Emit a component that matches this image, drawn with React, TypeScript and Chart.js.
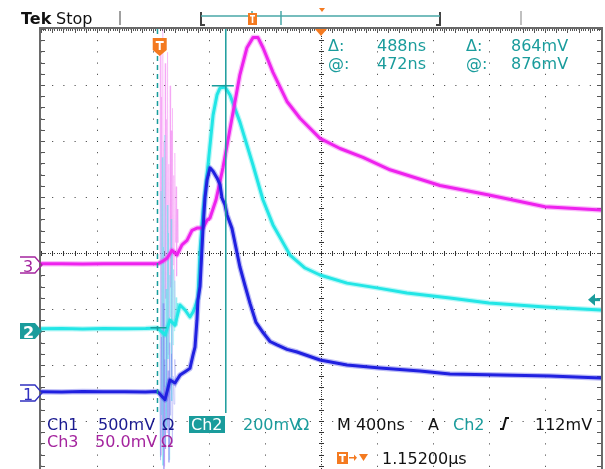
import React, { useEffect, useRef } from "react";
import { Chart, registerables } from "chart.js";
Chart.register(...registerables);

// ---- timebase / vertical setup ----
const timeDivNs = 400;
const triggerDelayNs = 1152;
const xMinNs = triggerDelayNs - 5 * timeDivNs;
const xMaxNs = triggerDelayNs + 5 * timeDivNs;
const divTop = 4;
const divBottom = -3.857;

const ch1Scale = 0.5, ch1Pos = -2.5;
const ch2Scale = 0.2, ch2Pos = -1.393;
const ch3Scale = 0.05, ch3Pos = -0.214;

const cursor1Ns = -16, cursor1V = 0.012;
const cursor2Ns = 472, cursor2V = 0.876;
const triggerLevelV = 0.112;

// ---- waveforms (time ns, volts) ----
const ch1T = [-848, -700, -550, -400, -250, -100, -16, 38, 73, 109, 145, 181, 216, 238, 252, 266, 273, 288, 309, 323, 338, 359, 381, 409, 431, 445, 466, 481, 516, 573, 609, 645, 688, 738, 788, 838, 909, 981, 1145, 1338, 1573, 1859, 2073, 2431, 2788, 3152];
const ch1V = [0.012, 0.010, 0.013, 0.011, 0.012, 0.010, 0.014, -0.060, 0.116, 0.089, 0.160, 0.190, 0.220, 0.340, 0.410, 0.650, 0.830, 0.950, 1.460, 1.740, 1.900, 2.010, 1.980, 1.920, 1.860, 1.740, 1.680, 1.590, 1.470, 1.125, 0.960, 0.800, 0.630, 0.540, 0.460, 0.430, 0.390, 0.366, 0.295, 0.250, 0.223, 0.196, 0.170, 0.160, 0.152, 0.134];

const ch2T = [-848, -700, -550, -400, -250, -100, -16, 38, 73, 109, 145, 181, 216, 238, 252, 273, 288, 309, 345, 381, 409, 431, 466, 502, 573, 666, 738, 809, 931, 1038, 1145, 1338, 1552, 1766, 2073, 2352, 2752, 3152];
const ch2V = [0.008, 0.009, 0.007, 0.009, 0.008, 0.009, 0.011, -0.014, 0.039, 0.021, 0.093, 0.075, 0.050, 0.068, 0.086, 0.118, 0.289, 0.425, 0.593, 0.771, 0.843, 0.868, 0.871, 0.843, 0.746, 0.593, 0.468, 0.379, 0.271, 0.225, 0.200, 0.171, 0.154, 0.136, 0.118, 0.100, 0.086, 0.075];

const ch3T = [-848, -700, -550, -400, -250, -100, -16, 16, 52, 88, 124, 159, 195, 231, 266, 309, 338, 359, 402, 452, 516, 573, 623, 666, 702, 738, 809, 909, 1002, 1145, 1288, 1452, 1645, 2002, 2352, 2752, 3152];
const ch3V = [0.0010, 0.0012, 0.0009, 0.0011, 0.0010, 0.0012, 0.0010, 0.003, 0.006, 0.013, 0.009, 0.018, 0.022, 0.031, 0.033, 0.033, 0.040, 0.042, 0.058, 0.087, 0.131, 0.170, 0.194, 0.203, 0.203, 0.194, 0.172, 0.146, 0.131, 0.113, 0.104, 0.096, 0.085, 0.071, 0.0625, 0.052, 0.049];

// ---- burst noise just after the trigger ----
const smear1T = [0, 6, 12, 18, 24, 30, 36, 42, 48, 54, 60, 66, 72, 78, 84, 90, 96, 102, 108, 114, 120];
const smear1V = [0.01, -0.6, 0.5, -0.4, 0.8, -0.68, 0.3, -0.5, 0.6, -0.3, 0.2, -0.62, 0.45, -0.2, 0.35, -0.45, 0.15, -0.1, 0.3, 0.05, 0.1];
const smear2T = [0, 5, 9, 14, 18, 23, 27, 32, 36, 41, 45, 50, 54, 59, 63, 68, 72, 77, 81, 86, 90, 95, 99, 104, 108, 113, 117, 122, 126, 130];
const smear2V = [0.01, -0.45, 0.5, -0.3, 0.62, -0.48, 0.3, -0.2, 0.7, -0.42, 0.15, -0.35, 0.45, -0.1, 0.35, -0.46, 0.2, 0.05, 0.4, -0.25, 0.28, -0.05, 0.22, 0.0, 0.18, 0.05, 0.12, 0.02, 0.1, 0.06];
const smear3T = [0, 4, 9, 13, 17, 22, 26, 30, 35, 39, 43, 48, 52, 56, 61, 65, 69, 74, 78, 82, 87, 91, 95, 100, 104, 108, 113, 117, 121, 126, 130];
const smear3V = [0.00, 0.20, -0.17, 0.15, -0.06, 0.21, -0.12, 0.11, -0.18, 0.18, -0.03, 0.13, -0.15, 0.19, -0.08, 0.09, -0.16, 0.16, -0.02, 0.12, -0.10, 0.14, 0.00, 0.08, -0.05, 0.10, 0.02, 0.07, -0.01, 0.05, 0.02];

// ---- colours ----
const C1 = "#2020e0", C1T = "#1a1a90";
const C2 = "#22e6e6", C2T = "#1a9c9c";
const C3 = "#ee22ee", C3T = "#a4249e";
const ORANGE = "#f47a20";

const pts = (t: number[], v: number[]) => t.map((x, i) => ({ x, y: v[i] }));
const FONT = "DejaVu Sans";

const scopePlugin = {
  id: "scope",
  beforeDraw(chart: any) {
    const ctx = chart.ctx;
    ctx.save();
    ctx.fillStyle = "#ffffff";
    ctx.fillRect(0, 0, chart.width, chart.height);
    ctx.restore();
  },
  beforeDatasetsDraw(chart: any) {
    const ctx = chart.ctx;
    const a = chart.chartArea;
    const xs = chart.scales.x, ys = chart.scales.y;
    const cx = xs.getPixelForValue(triggerDelayNs);
    const cy = ys.getPixelForValue(0);
    const minorX = (xs.getPixelForValue(xMinNs + timeDivNs) - xs.getPixelForValue(xMinNs)) / 5;
    const minorY = (ys.getPixelForValue(0) - ys.getPixelForValue(1)) / 5;
    ctx.save();
    ctx.fillStyle = "#333";
    for (let x = a.left; x <= a.right + 0.1; x += minorX / 5) ctx.fillRect(Math.round(x), Math.round(cy), 1, 1);
    for (let y = a.top; y <= a.bottom + 0.1; y += minorY / 5) ctx.fillRect(Math.round(cx), Math.round(y), 1, 1);
    for (let x = a.left; x <= a.right + 0.1; x += minorX) ctx.fillRect(Math.round(x), Math.round(cy) - 2, 1, 5);
    for (let y = a.top; y <= a.bottom + 0.1; y += minorY) ctx.fillRect(Math.round(cx) - 2, Math.round(y), 5, 1);
    ctx.fillStyle = "#555";
    for (let x = a.left; x <= a.right + 0.1; x += minorX) ctx.fillRect(Math.round(x), a.top, 1, 4);
    for (let y = a.top; y <= a.bottom + 0.1; y += minorY) {
      ctx.fillRect(a.left, Math.round(y), 4, 1);
      ctx.fillRect(a.right - 4, Math.round(y), 4, 1);
    }
    for (let x = a.left; x <= a.right + 0.1; x += minorX / 5) ctx.fillRect(Math.round(x), a.top, 1, 2);
    ctx.strokeStyle = "#6a6a6a";
    ctx.lineWidth = 2;
    ctx.beginPath();
    ctx.moveTo(a.left - 1, a.bottom);
    ctx.lineTo(a.left - 1, a.top - 1);
    ctx.lineTo(a.right + 1, a.top - 1);
    ctx.lineTo(a.right + 1, a.bottom);
    ctx.stroke();
    ctx.restore();
  },
  afterDatasetsDraw(chart: any) {
    const ctx = chart.ctx;
    const a = chart.chartArea;
    const xs = chart.scales.x;
    const y1 = chart.scales.y1, y2 = chart.scales.y2, y3 = chart.scales.y3;
    ctx.save();
    const c1x = xs.getPixelForValue(cursor1Ns);
    const c2x = xs.getPixelForValue(cursor2Ns);
    const cursorBottom = 413;
    ctx.strokeStyle = C2T;
    ctx.lineWidth = 1.5;
    ctx.setLineDash([5, 4]);
    ctx.beginPath();
    ctx.moveTo(c1x, a.top);
    ctx.lineTo(c1x, cursorBottom);
    ctx.stroke();
    ctx.setLineDash([]);
    ctx.beginPath();
    ctx.moveTo(c2x, a.top);
    ctx.lineTo(c2x, cursorBottom);
    ctx.stroke();
    const c1y = y2.getPixelForValue(cursor1V);
    const c2y = y2.getPixelForValue(cursor2V);
    ctx.beginPath();
    ctx.moveTo(c1x - 7, c1y); ctx.lineTo(c1x + 9, c1y);
    ctx.moveTo(c2x - 14, c2y); ctx.lineTo(c2x + 8, c2y);
    ctx.stroke();

    const tx = xs.getPixelForValue(0);
    ctx.fillStyle = ORANGE;
    ctx.beginPath();
    ctx.moveTo(tx - 7, 38); ctx.lineTo(tx + 7, 38); ctx.lineTo(tx + 7, 50);
    ctx.lineTo(tx, 56); ctx.lineTo(tx - 7, 50); ctx.closePath();
    ctx.fill();
    ctx.fillStyle = "#fff";
    ctx.fillRect(tx - 4, 41, 8, 2);
    ctx.fillRect(tx - 1, 41, 2, 9);
    const cx = xs.getPixelForValue(triggerDelayNs);
    ctx.fillStyle = ORANGE;
    ctx.beginPath();
    ctx.moveTo(cx - 6, a.top); ctx.lineTo(cx + 6, a.top); ctx.lineTo(cx, a.top + 7); ctx.closePath();
    ctx.fill();

    const tly = y2.getPixelForValue(triggerLevelV);
    ctx.fillStyle = C2T;
    ctx.beginPath();
    ctx.moveTo(588, tly); ctx.lineTo(595, tly - 6); ctx.lineTo(595, tly + 6); ctx.closePath();
    ctx.fill();
    ctx.fillRect(594, tly - 1.5, 6, 3);

    const marker = (y: number, color: string, label: string, filled: boolean) => {
      const L = 20, R = 42, H = 8;
      ctx.beginPath();
      ctx.moveTo(L, y - H); ctx.lineTo(R - 7, y - H); ctx.lineTo(R, y);
      ctx.lineTo(R - 7, y + H); ctx.lineTo(L, y + H);
      if (filled) {
        ctx.closePath();
        ctx.fillStyle = color; ctx.fill();
      } else {
        ctx.strokeStyle = color; ctx.lineWidth = 1.3; ctx.stroke();
      }
      ctx.fillStyle = filled ? "#fff" : color;
      ctx.font = (filled ? "bold " : "") + "16px " + FONT;
      ctx.textBaseline = "alphabetic";
      ctx.fillText(label, 23, y + 7);
    };
    marker(y3.getPixelForValue(0), C3T, "3", false);
    marker(y2.getPixelForValue(0), C2T, "2", true);
    marker(y1.getPixelForValue(0), "#3030c0", "1", false);

    ctx.font = "16px " + FONT;
    ctx.fillStyle = C2T;
    ctx.fillText("Δ:", 328, 51);
    ctx.fillText("488ns", 377, 51);
    ctx.fillText("Δ:", 466, 51);
    ctx.fillText("864mV", 511, 51);
    ctx.fillText("@:", 328, 69);
    ctx.fillText("472ns", 377, 69);
    ctx.fillText("@:", 466, 69);
    ctx.fillText("876mV", 511, 69);

    ctx.fillStyle = C1T;
    ctx.fillText("Ch1", 47, 430);
    ctx.fillText("500mV", 98, 430);
    ctx.fillText("Ω", 162, 430);
    ctx.fillStyle = C2T;
    ctx.fillRect(189, 416, 36, 17);
    ctx.fillStyle = "#fff";
    ctx.fillText("Ch2", 191, 430);
    ctx.fillStyle = C2T;
    ctx.fillText("200mV", 243, 430);
    ctx.fillText("Ω", 297, 430);
    ctx.fillStyle = "#111";
    ctx.fillText("M 400ns", 337, 430);
    ctx.fillText("A", 428, 430);
    ctx.fillStyle = C2T;
    ctx.fillText("Ch2", 453, 430);
    ctx.fillStyle = "#111";
    ctx.fillText("112mV", 535, 430);
    ctx.strokeStyle = "#111";
    ctx.lineWidth = 2;
    ctx.beginPath();
    ctx.moveTo(500, 429); ctx.lineTo(503, 429); ctx.lineTo(506, 418); ctx.lineTo(509, 418);
    ctx.stroke();
    ctx.fillStyle = C3T;
    ctx.fillText("Ch3", 47, 447);
    ctx.fillText("50.0mV", 95, 447);
    ctx.fillText("Ω", 161, 447);
    ctx.fillStyle = ORANGE;
    ctx.fillRect(337, 452, 11, 12);
    ctx.fillStyle = "#fff";
    ctx.fillRect(339, 454, 7, 2);
    ctx.fillRect(341.5, 454, 2, 8);
    ctx.fillStyle = ORANGE;
    ctx.fillRect(349, 457, 6, 1.5);
    ctx.beginPath();
    ctx.moveTo(354, 454.5); ctx.lineTo(357, 457.7); ctx.lineTo(354, 461); ctx.closePath(); ctx.fill();
    ctx.beginPath();
    ctx.moveTo(359, 454); ctx.lineTo(368, 454); ctx.lineTo(363.5, 461); ctx.closePath(); ctx.fill();
    ctx.fillStyle = "#111";
    ctx.fillText("1.15200µs", 382, 464);

    ctx.font = "bold 16px " + FONT;
    ctx.fillStyle = "#111";
    ctx.fillText("Tek", 21, 24);
    ctx.font = "16px " + FONT;
    ctx.fillText("Stop", 56, 24);
    ctx.lineWidth = 2;
    ctx.strokeStyle = "#a0a0a0";
    ctx.beginPath(); ctx.moveTo(120, 11); ctx.lineTo(120, 25); ctx.stroke();
    ctx.strokeStyle = "#c0c0c0";
    ctx.beginPath(); ctx.moveTo(521, 11); ctx.lineTo(521, 25); ctx.stroke();
    ctx.strokeStyle = "#444";
    ctx.beginPath();
    ctx.moveTo(201, 12); ctx.lineTo(201, 25); ctx.lineTo(205, 25);
    ctx.moveTo(440, 12); ctx.lineTo(440, 25); ctx.lineTo(436, 25);
    ctx.stroke();
    ctx.strokeStyle = "#4aa8a8";
    ctx.lineWidth = 1.5;
    ctx.beginPath();
    ctx.moveTo(201, 16); ctx.lineTo(440, 16);
    ctx.moveTo(252, 11); ctx.lineTo(252, 25);
    ctx.moveTo(281, 11); ctx.lineTo(281, 25);
    ctx.stroke();
    ctx.fillStyle = ORANGE;
    ctx.fillRect(248, 13, 9, 12);
    ctx.fillStyle = "#fff";
    ctx.fillRect(250, 15, 5, 1.5);
    ctx.fillRect(251.7, 15, 1.6, 8);
    ctx.fillStyle = ORANGE;
    ctx.beginPath();
    ctx.moveTo(319, 8); ctx.lineTo(325, 8); ctx.lineTo(322, 12); ctx.closePath(); ctx.fill();
    ctx.restore();
  },
};

export default function App() {
  const ref = useRef<HTMLCanvasElement | null>(null);
  useEffect(() => {
    document.body.style.margin = "0";
    const canvas = ref.current!;
    const line = (data: any, color: string, width: number, axis: string) => ({
      data,
      borderColor: color,
      backgroundColor: color,
      borderWidth: width,
      pointRadius: 0,
      showLine: true,
      tension: 0,
      fill: false,
      yAxisID: axis,
      borderJoinStyle: "round",
      borderCapStyle: "round",
    });
    const chart = new Chart(canvas, {
      type: "scatter",
      data: {
        datasets: [
          line(pts(ch1T, ch1V), C1, 3, "y1"),
          line(pts(ch1T, ch1V), "rgba(32,32,224,0.3)", 5.5, "y1"),
          line(pts(ch3T, ch3V), C3, 3, "y3"),
          line(pts(ch3T, ch3V), "rgba(238,34,238,0.3)", 5.5, "y3"),
          line(pts(ch2T, ch2V), C2, 3, "y2"),
          line(pts(ch2T, ch2V), "rgba(34,230,230,0.3)", 5.5, "y2"),
          line(pts(smear1T, smear1V), "rgba(110,110,240,0.28)", 1, "y1"),
          line(pts(smear2T, smear2V), "rgba(80,225,235,0.3)", 1, "y2"),
          line(pts(smear3T, smear3V), "rgba(240,110,240,0.28)", 1, "y3"),
        ] as any,
      },
      options: {
        animation: false,
        responsive: false,
        devicePixelRatio: 1,
        events: [],
        layout: { padding: { left: 41, top: 29, right: 4, bottom: 0 } },
        plugins: { legend: { display: false }, tooltip: { enabled: false } },
        scales: {
          x: {
            type: "linear",
            min: xMinNs,
            max: xMaxNs,
            afterBuildTicks: (s: any) => {
              s.ticks = Array.from({ length: 11 }, (_, k) => ({ value: xMinNs + k * timeDivNs }));
            },
            ticks: { display: false },
            grid: { color: "#333", lineWidth: 1, drawTicks: false },
            border: { display: false, dash: [1, 10.2] },
          },
          y: {
            type: "linear",
            min: divBottom,
            max: divTop,
            afterBuildTicks: (s: any) => {
              s.ticks = [-3, -2, -1, 0, 1, 2, 3, 4].map((v) => ({ value: v }));
            },
            ticks: { display: false },
            grid: { color: "#333", lineWidth: 1, drawTicks: false },
            border: { display: false, dash: [1, 10.2] },
          },
          y1: { type: "linear", display: false, min: (divBottom - ch1Pos) * ch1Scale, max: (divTop - ch1Pos) * ch1Scale },
          y2: { type: "linear", display: false, min: (divBottom - ch2Pos) * ch2Scale, max: (divTop - ch2Pos) * ch2Scale },
          y3: { type: "linear", display: false, min: (divBottom - ch3Pos) * ch3Scale, max: (divTop - ch3Pos) * ch3Scale },
        },
      } as any,
      plugins: [scopePlugin],
    });
    return () => chart.destroy();
  }, []);
  return (
    <div style={{ position: "fixed", left: 0, top: 0, width: 605, height: 469, overflow: "hidden" }}>
      <canvas ref={ref} width={605} height={469} style={{ display: "block" }} />
    </div>
  );
}
